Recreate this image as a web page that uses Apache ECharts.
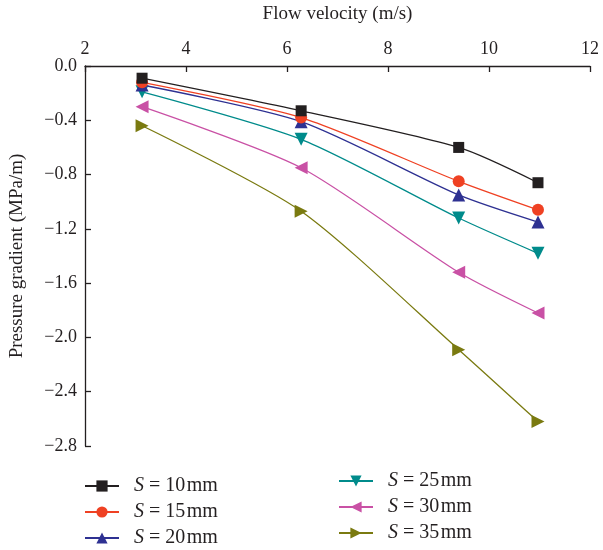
<!DOCTYPE html>
<html><head><meta charset="utf-8">
<script src="https://cdn.jsdelivr.net/npm/echarts@6/dist/echarts.min.js"></script>
<style>html,body{margin:0;padding:0;background:#fff}#c{width:603px;height:550px}</style>
</head><body><div id="c"></div>
<script>
const velocity = [3.13, 6.28, 9.4, 10.97];
const seriesNames = ['S = 10 mm','S = 15 mm','S = 20 mm','S = 25 mm','S = 30 mm','S = 35 mm'];
const s10 = [-0.09, -0.33, -0.60, -0.86];
const s15 = [-0.12, -0.38, -0.85, -1.06];
const s20 = [-0.14, -0.41, -0.95, -1.15];
const s25 = [-0.19, -0.54, -1.12, -1.38];
const s30 = [-0.30, -0.75, -1.52, -1.82];
const s35 = [-0.44, -1.07, -2.09, -2.62];
const allValues = [s10, s15, s20, s25, s30, s35];
const colors = ['#231f20','#ef4123','#2e3192','#008b8b','#c951a5','#7a7a10'];
const symbols = ['rect','circle','triangle','triangle','triangle','triangle'];
const rotates = [0,0,0,180,90,-90];
const sizes = [11,12,13,13,13,13];
const font = 'Liberation Serif';

const series = allValues.map((vals,i)=>({
  name: seriesNames[i],
  type:'line',
  smooth:0.25,
  data: vals.map((v,j)=>[velocity[j], v]),
  symbol: symbols[i],
  symbolRotate: rotates[i],
  symbolSize: sizes[i],
  lineStyle:{color:colors[i], width:1.3},
  itemStyle:{color:colors[i]},
  z: 10 - i
}));

function fmt(name){ return '{i|S}' + name.slice(1).replace(' mm','{s| }mm'); }
const legendText = {fontFamily:font, fontSize:20, lineHeight:18, color:'#231f20', padding:[0,0,0,10],
  rich:{i:{fontFamily:font,fontStyle:'italic',fontSize:20,lineHeight:18,color:'#231f20'}, s:{fontSize:6,lineHeight:18}}};

const chart = echarts.init(document.getElementById('c'));
chart.setOption({
  animation:false,
  grid:{left:84, top:66, right:13, bottom:104},
  xAxis:{
    type:'value', position:'top', min:2, max:12, interval:2,
    name:'Flow velocity (m/s)', nameLocation:'middle', nameGap:42,
    nameTextStyle:{fontFamily:font, fontSize:19, color:'#231f20'},
    axisLine:{lineStyle:{color:'#231f20', width:1.3}},
    axisTick:{inside:true, length:6, lineStyle:{color:'#231f20', width:1.3}},
    axisLabel:{fontFamily:font, fontSize:18, color:'#231f20', margin:8},
    splitLine:{show:false}
  },
  yAxis:{
    type:'value', min:-2.8, max:0, interval:0.4,
    name:'Pressure gradient (MPa/m)', nameLocation:'middle', nameGap:58,
    nameTextStyle:{fontFamily:font, fontSize:19, color:'#231f20'},
    axisLine:{show:true, lineStyle:{color:'#231f20', width:1.3}},
    axisTick:{show:true, inside:true, length:6, lineStyle:{color:'#231f20', width:1.3}},
    axisLabel:{fontFamily:font, fontSize:18, color:'#231f20', margin:8,
      formatter:v=> (v===0?'0.0':('\u2212'+Math.abs(v).toFixed(1)))},
    splitLine:{show:false}
  },
  legend:[
    {data:seriesNames.slice(0,3), orient:'vertical', left:84, top:476, height:80, padding:0,
     itemWidth:34, itemHeight:14, itemGap:6, textStyle:legendText, formatter:fmt},
    {data:seriesNames.slice(3), orient:'vertical', left:338, top:471, height:80, padding:0,
     itemWidth:34, itemHeight:14, itemGap:6, textStyle:legendText, formatter:fmt}
  ],
  series
});
</script></body></html>
